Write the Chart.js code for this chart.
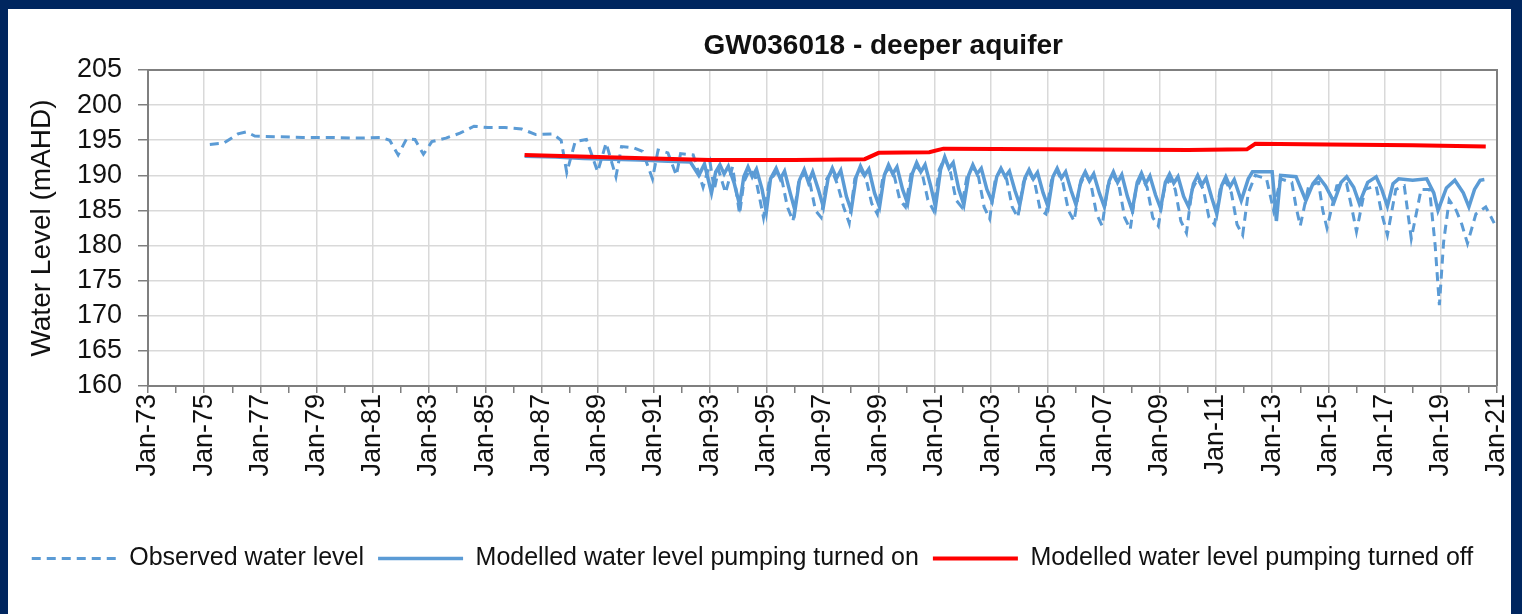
<!DOCTYPE html>
<html lang="en">
<head>
    <meta charset="UTF-8">
    <title>GW036018 - deeper aquifer</title>
    <script src="https://cdn.jsdelivr.net/npm/chart.js@4.4.1/dist/chart.umd.min.js"></script>
    <style>
        body {
            margin: 0;
            width: 1522px;
            height: 614px;
            background: #00265f;
            overflow: hidden;
            font-family: "Liberation Sans", Arial, sans-serif;
        }

        .panel {
            position: absolute;
            left: 8px;
            top: 9px;
            width: 1503px;
            height: 605px;
            background: #ffffff;
        }
    </style>
</head>
<body>
    <div class="panel">
        <canvas id="levelChart" width="1503" height="605"></canvas>
    </div>

    <script>
        const chartTitle = 'GW036018 - deeper aquifer';
        const seriesNames = [
            'Observed water level',
            'Modelled water level pumping turned on',
            'Modelled water level pumping turned off'
        ];

        // x = decimal year, y = water level (mAHD)
        const observed = [
            [1975.2,194.4],[1975.7,194.6],[1976.2,195.9],[1976.5,196.2],[1976.8,195.6],[1977.5,195.5],
            [1978.5,195.4],[1979.5,195.4],[1980.5,195.3],[1981.3,195.4],[1981.6,195.0],[1981.9,192.9],
            [1982.2,195.2],[1982.5,195.1],[1982.8,193.0],[1983.1,194.8],[1983.6,195.3],[1984.1,196.0],
            [1984.6,197.0],[1985.1,196.8],[1985.7,196.8],[1986.3,196.6],[1986.8,195.8],[1987.4,195.9],
            [1987.7,195.0],[1987.9,190.4],[1988.2,194.8],[1988.6,195.1],[1989.0,190.5],[1989.3,194.6],
            [1989.65,189.8],[1989.85,194.1],[1990.3,193.9],[1990.6,193.4],[1990.95,189.5],[1991.15,193.6],
            [1991.5,193.2],[1991.8,190.0],[1991.95,193.1],[1992.4,192.9],[1992.75,188.3],[1993.0,191.8],
            [1993.15,188.0],[1993.3,190.8],[1993.55,187.5],[1993.8,191.2],
            [1994.05,184.5],[1994.2,189.0],[1994.4,190.8],[1994.6,190.0],[1994.75,187.0],[1994.9,184.0],
            [1995.1,189.0],[1995.35,190.5],[1995.55,189.5],[1995.75,185.5],[1995.95,183.5],
            [1996.15,189.0],[1996.35,190.3],[1996.55,189.0],[1996.75,185.0],[1996.95,184.0],
            [1997.15,189.5],[1997.35,190.6],[1997.55,188.5],[1997.75,185.5],[1997.95,183.2],
            [1998.15,189.5],[1998.35,190.8],[1998.55,189.5],[1998.75,186.0],[1998.95,184.5],
            [1999.15,189.8],[1999.35,191.0],[1999.55,190.0],[1999.75,186.5],[1999.95,185.5],
            [2000.15,190.2],[2000.35,191.3],[2000.55,190.2],[2000.75,186.5],[2000.95,185.0],
            [2001.15,190.8],[2001.35,192.5],[2001.55,190.5],[2001.75,186.5],[2001.95,185.5],
            [2002.15,190.0],[2002.35,191.2],[2002.55,189.8],[2002.75,185.5],[2002.95,183.8],
            [2003.15,189.5],[2003.35,190.8],[2003.55,189.5],[2003.75,185.5],[2003.95,184.0],
            [2004.15,189.0],[2004.35,190.5],[2004.55,189.0],[2004.75,185.0],[2004.95,184.5],
            [2005.15,189.3],[2005.35,190.6],[2005.55,189.0],[2005.75,185.0],[2005.95,183.5],
            [2006.15,188.5],[2006.35,190.2],[2006.55,188.8],[2006.75,184.5],[2006.95,182.8],
            [2007.15,188.5],[2007.35,190.0],[2007.55,188.5],[2007.75,184.0],[2007.95,182.3],
            [2008.15,188.0],[2008.35,189.8],[2008.55,188.3],[2008.75,184.0],[2008.95,182.8],
            [2009.15,187.8],[2009.35,189.5],[2009.55,188.0],[2009.75,183.5],[2009.95,181.8],
            [2010.15,188.0],[2010.35,189.5],[2010.55,188.0],[2010.75,184.0],[2010.95,183.0],
            [2011.15,188.0],[2011.35,189.2],[2011.55,187.5],[2011.75,183.0],[2011.95,181.5],
            [2012.15,187.5],[2012.4,190.0],[2012.8,189.5],[2013.05,185.0],[2013.3,189.5],[2013.7,189.0],
            [2013.85,185.5],[2014.0,182.8],[2014.3,188.5],[2014.65,189.0],[2014.8,185.0],[2014.95,182.5],
            [2015.3,188.5],[2015.65,188.8],[2015.85,185.0],[2016.0,182.0],[2016.3,188.0],[2016.7,188.5],
            [2016.9,184.5],[2017.1,181.5],[2017.4,188.0],[2017.7,188.5],[2017.85,184.0],[2017.95,181.0],
            [2018.3,188.0],[2018.6,188.0],[2018.8,180.0],[2018.95,171.5],[2019.1,180.5],[2019.3,186.5],
            [2019.55,185.0],[2019.75,183.0],[2019.95,180.3],[2020.25,184.5],[2020.6,185.5],[2020.9,183.2]
        ];

        const pumpingOn = [
            [1986.4,192.7],[1987.5,192.6],[1988.5,192.4],[1989.5,192.3],[1990.5,192.2],[1991.5,192.0],
            [1992.3,191.9],[1992.6,190.0],[1992.8,191.6],
            [1993.05,187.5],[1993.2,190.5],[1993.35,191.5],[1993.5,190.2],[1993.65,191.3],[1993.85,189.0],
            [1994.05,185.8],[1994.2,189.8],[1994.35,191.2],[1994.5,189.8],[1994.65,190.9],[1994.85,188.0],
            [1995.0,184.8],[1995.15,189.5],[1995.35,191.0],[1995.5,189.5],[1995.65,190.6],[1995.85,187.5],
            [1996.02,185.0],[1996.18,189.3],[1996.35,190.8],[1996.5,189.0],[1996.65,190.5],[1996.85,188.0],
            [1997.03,185.5],[1997.2,189.6],[1997.35,191.0],[1997.5,189.6],[1997.65,190.7],[1997.85,187.0],
            [1998.02,185.0],[1998.2,189.8],[1998.35,191.3],[1998.5,190.0],[1998.65,190.9],[1998.85,187.5],
            [1999.03,185.5],[1999.2,190.0],[1999.35,191.5],[1999.5,190.2],[1999.65,191.2],[1999.85,188.0],
            [2000.03,186.0],[2000.2,190.3],[2000.35,191.8],[2000.5,190.5],[2000.65,191.5],[2000.85,188.5],
            [2001.02,185.5],[2001.2,190.8],[2001.35,192.6],[2001.5,191.0],[2001.65,191.8],[2001.85,188.0],
            [2002.03,185.8],[2002.2,190.0],[2002.35,191.5],[2002.5,190.2],[2002.65,191.0],[2002.85,188.0],
            [2003.03,186.3],[2003.2,189.8],[2003.35,191.0],[2003.5,189.8],[2003.65,190.6],[2003.85,187.8],
            [2004.02,185.8],[2004.2,189.6],[2004.35,190.8],[2004.5,189.5],[2004.65,190.4],[2004.85,187.5],
            [2005.03,185.5],[2005.2,189.8],[2005.35,191.0],[2005.5,189.6],[2005.65,190.5],[2005.85,187.8],
            [2006.02,185.8],[2006.2,189.3],[2006.35,190.5],[2006.5,189.2],[2006.65,190.2],[2006.85,187.5],
            [2007.03,185.5],[2007.2,189.2],[2007.35,190.5],[2007.5,189.0],[2007.65,190.1],[2007.85,187.0],
            [2008.02,185.0],[2008.2,189.0],[2008.35,190.3],[2008.5,188.8],[2008.65,189.9],[2008.85,187.2],
            [2009.03,185.3],[2009.2,189.0],[2009.35,190.2],[2009.5,188.9],[2009.65,189.8],[2009.85,187.0],
            [2010.03,185.5],[2010.2,188.8],[2010.35,190.0],[2010.5,188.6],[2010.65,189.6],[2010.85,186.8],
            [2011.03,184.5],[2011.2,188.5],[2011.35,189.8],[2011.5,188.4],[2011.65,189.4],[2011.9,186.4],
            [2012.15,189.5],[2012.3,190.5],[2013.0,190.5],[2013.1,186.0],[2013.15,183.5],[2013.3,190.0],
            [2013.85,189.8],[2014.2,186.4],[2014.45,188.8],[2014.65,189.8],[2014.9,188.5],[2015.2,186.2],
            [2015.45,189.0],[2015.65,189.8],[2015.9,188.3],[2016.1,186.0],[2016.4,189.0],[2016.7,189.8],
            [2016.9,188.0],[2017.1,185.6],[2017.3,188.8],[2017.5,189.5],[2018.0,189.3],[2018.5,189.5],
            [2018.75,187.5],[2018.9,185.0],[2019.2,188.2],[2019.5,189.3],[2019.8,187.5],[2020.0,185.5],
            [2020.2,188.0],[2020.4,189.3],[2020.55,189.4]
        ];

        const pumpingOff = [
            [1986.4,192.9],[1990.0,192.5],[1993.0,192.2],[1996.0,192.2],[1998.5,192.3],[1999.0,193.2],
            [2000.8,193.3],[2001.3,193.8],[2005.0,193.7],[2010.0,193.6],[2012.1,193.7],[2012.4,194.5],
            [2015.0,194.4],[2018.0,194.3],[2020.6,194.1]
        ];

        const yearMin = 1973;
        const yearMax = 2021;
        const levelMin = 160;
        const levelMax = 205;

        const toPoints = rows => rows.map(r => ({ x: r[0], y: r[1] }));

        // outline on top and right of the plot + the chart title
        const framePlugin = {
            id: 'frame',
            afterDraw(chart) {
                const { ctx, chartArea } = chart;
                ctx.save();
                ctx.strokeStyle = '#7f7f7f';
                ctx.lineWidth = 2;
                ctx.beginPath();
                ctx.moveTo(chartArea.left, chartArea.top);
                ctx.lineTo(chartArea.right, chartArea.top);
                ctx.lineTo(chartArea.right, chartArea.bottom);
                ctx.stroke();
                ctx.fillStyle = '#111';
                ctx.font = 'bold 28px "Liberation Sans", Arial, sans-serif';
                ctx.textAlign = 'center';
                ctx.textBaseline = 'middle';
                ctx.fillText(chartTitle, chartArea.left + chartArea.width * 0.545, chartArea.top - 24);
                ctx.restore();
            }
        };

        const ctx = document.getElementById('levelChart').getContext('2d');
        const chart = new Chart(ctx, {
            type: 'line',
            data: {
                datasets: [
                    {
                        label: seriesNames[0],
                        data: toPoints(observed),
                        borderColor: '#5b9bd5',
                        borderWidth: 3,
                        borderDash: [9, 6],
                        pointRadius: 0,
                        pointStyle: 'line',
                        order: 2
                    },
                    {
                        label: seriesNames[1],
                        data: toPoints(pumpingOn),
                        borderColor: '#5b9bd5',
                        borderWidth: 3.5,
                        pointRadius: 0,
                        pointStyle: 'line',
                        order: 1
                    },
                    {
                        label: seriesNames[2],
                        data: toPoints(pumpingOff),
                        borderColor: '#ff0000',
                        borderWidth: 4,
                        pointRadius: 0,
                        pointStyle: 'line',
                        order: 0
                    }
                ]
            },
            options: {
                responsive: false,
                animation: false,
                layout: {
                    padding: { top: 61, right: 14, bottom: 33, left: 0 }
                },
                plugins: {
                    title: { display: false },
                    tooltip: { enabled: false },
                    legend: {
                        position: 'bottom',
                        labels: {
                            usePointStyle: true,
                            pointStyleWidth: 85,
                            padding: 14,
                            color: '#111',
                            font: { family: '"Liberation Sans", Arial, sans-serif', size: 25 },
                            sort: (a, b) => a.datasetIndex - b.datasetIndex,
                            generateLabels: c => Chart.defaults.plugins.legend.labels.generateLabels(c).map(item => {
                                const ds = c.data.datasets[item.datasetIndex];
                                item.lineDash = ds.borderDash || [];
                                item.lineWidth = ds.borderWidth;
                                item.strokeStyle = ds.borderColor;
                                item.fillStyle = ds.borderColor;
                                item.pointStyle = 'line';
                                return item;
                            })
                        }
                    }
                },
                scales: {
                    x: {
                        type: 'linear',
                        min: yearMin,
                        max: yearMax,
                        afterFit: s => { s.height = 146; s.paddingRight = 0; },
                        border: { color: '#7f7f7f', width: 2 },
                        grid: {
                            color: c => (c.tick && c.tick.value % 2 === 1) ? '#d9d9d9' : 'rgba(0,0,0,0)',
                            tickColor: '#7f7f7f',
                            tickLength: 7,
                            lineWidth: 1.5
                        },
                        ticks: {
                            stepSize: 1,
                            autoSkip: false,
                            minRotation: 90,
                            maxRotation: 90,
                            padding: 1,
                            color: '#111',
                            font: { family: '"Liberation Sans", Arial, sans-serif', size: 27 },
                            callback: v => v % 2 === 1 ? 'Jan-' + String(v % 100).padStart(2, '0') : ''
                        }
                    },
                    y: {
                        min: levelMin,
                        max: levelMax,
                        afterFit: s => { s.width = 140; },
                        border: { color: '#7f7f7f', width: 2 },
                        grid: {
                            color: '#d9d9d9',
                            tickColor: '#7f7f7f',
                            tickLength: 10,
                            lineWidth: 1.5
                        },
                        ticks: {
                            stepSize: 5,
                            autoSkip: false,
                            padding: 16,
                            color: '#111',
                            font: { family: '"Liberation Sans", Arial, sans-serif', size: 27 }
                        },
                        title: {
                            display: true,
                            text: 'Water Level (mAHD)',
                            color: '#111',
                            padding: { top: 17, bottom: 0 },
                            font: { family: '"Liberation Sans", Arial, sans-serif', size: 28 }
                        }
                    }
                }
            },
            plugins: [framePlugin]
        });
    </script>
</body>
</html>
